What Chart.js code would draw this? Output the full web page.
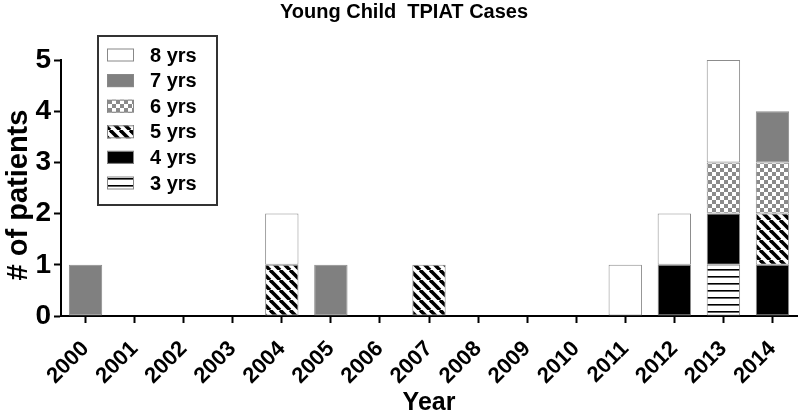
<!DOCTYPE html>
<html>
<head>
<meta charset="utf-8">
<script src="https://cdn.jsdelivr.net/npm/chart.js@4.4.0/dist/chart.umd.min.js"></script>
<style>
  html, body { margin: 0; padding: 0; background: #fff; }
  #wrap { width: 800px; height: 415px; }
</style>
</head>
<body>
<div id="wrap"><canvas id="tpiatChart"></canvas></div>
<script>
// Data
const years = ['2000','2001','2002','2003','2004','2005','2006','2007','2008','2009','2010','2011','2012','2013','2014'];
const yrs3 = [0,0,0,0,0,0,0,0,0,0,0,0,0,1,0];
const yrs4 = [0,0,0,0,0,0,0,0,0,0,0,0,1,1,1];
const yrs5 = [0,0,0,0,1,0,0,1,0,0,0,0,0,0,1];
const yrs6 = [0,0,0,0,0,0,0,0,0,0,0,0,0,1,1];
const yrs7 = [1,0,0,0,0,1,0,0,0,0,0,0,0,0,1];
const yrs8 = [0,0,0,0,1,0,0,0,0,0,0,1,1,2,0];
const yTicks = [0,1,2,3,4,5];

const FONT = 'Arial, "Liberation Sans", Helvetica, sans-serif';

// Fill patterns
function makePattern(w, h, draw) {
    const c = document.createElement('canvas');
    c.width = w; c.height = h;
    const g = c.getContext('2d');
    g.fillStyle = '#fff';
    g.fillRect(0, 0, w, h);
    draw(g);
    return document.getElementById('tpiatChart').getContext('2d').createPattern(c, 'repeat');
}

const hLines = makePattern(7, 7, g => {
    g.fillStyle = '#000';
    g.fillRect(0, 3, 7, 1.6);
});

const diagonal = makePattern(10, 10, g => {
    g.strokeStyle = '#000';
    g.lineWidth = 3.6;
    [-10, 0, 10].forEach(a => {
        g.beginPath();
        g.moveTo(a, 0);
        g.lineTo(a + 10, 10);
        g.stroke();
    });
});

const checker = makePattern(8, 8, g => {
    g.fillStyle = '#8a8a8a';
    g.fillRect(0, 0, 4, 4);
    g.fillRect(4, 4, 4, 4);
});

const seriesInfo = [
    { label: '3 yrs', data: yrs3, fill: hLines },
    { label: '4 yrs', data: yrs4, fill: '#000000' },
    { label: '5 yrs', data: yrs5, fill: diagonal },
    { label: '6 yrs', data: yrs6, fill: checker },
    { label: '7 yrs', data: yrs7, fill: '#808080' },
    { label: '8 yrs', data: yrs8, fill: '#ffffff' }
];

// Title, y title and legend box drawn on the canvas
const decorPlugin = {
    id: 'decor',
    afterDraw(chart) {
        const ctx = chart.ctx;
        ctx.save();
        ctx.fillStyle = '#000';
        ctx.font = 'bold 20px ' + FONT;
        ctx.textAlign = 'center';
        ctx.textBaseline = 'middle';
        ctx.fillText('Young Child  TPIAT Cases', 404, 12);

        // y axis title
        ctx.save();
        ctx.translate(19, 195);
        ctx.rotate(-Math.PI / 2);
        ctx.font = 'bold 29px ' + FONT;
        ctx.fillText('# of patients', 0, 0);
        ctx.restore();

        // legend
        ctx.strokeStyle = '#333';
        ctx.lineWidth = 2;
        ctx.strokeRect(98, 36, 119, 169);
        const sets = chart.data.datasets.slice().reverse();
        ctx.font = 'bold 20px ' + FONT;
        ctx.textAlign = 'left';
        sets.forEach((ds, i) => {
            const cy = 55 + i * 25.6;
            ctx.fillStyle = ds.backgroundColor;
            ctx.fillRect(107, cy - 6.5, 27, 13);
            ctx.strokeStyle = '#888';
            ctx.lineWidth = 1;
            ctx.strokeRect(107.5, cy - 6, 26, 12);
            ctx.fillStyle = '#000';
            ctx.fillText(ds.label, 150, cy + 1);
        });
        ctx.restore();
    }
};

const ctx = document.getElementById('tpiatChart').getContext('2d');
new Chart(ctx, {
    type: 'bar',
    data: {
        labels: years,
        datasets: seriesInfo.map(s => ({
            label: s.label,
            data: s.data.map(v => v === 0 ? null : v),
            backgroundColor: s.fill,
            borderColor: '#8c8c8c',
            borderWidth: 1,
            borderSkipped: false,
            barPercentage: 0.68,
            categoryPercentage: 1
        }))
    },
    options: {
        responsive: true,
        maintainAspectRatio: false,
        animation: false,
        layout: { padding: { top: 60, right: 3, left: 0, bottom: 0 } },
        plugins: {
            legend: { display: false },
            title: { display: false },
            tooltip: { enabled: false }
        },
        scales: {
            x: {
                stacked: true,
                afterFit: scale => {
                    scale.height = 99;
                    scale.paddingLeft = 0;
                    scale.paddingRight = 0;
                },
                border: { color: '#000', width: 2 },
                grid: {
                    offset: false,
                    drawOnChartArea: false,
                    color: '#000',
                    tickLength: 7,
                    tickWidth: 2
                },
                ticks: {
                    color: '#000',
                    font: { family: FONT, size: 22, weight: 'bold' },
                    minRotation: 45,
                    maxRotation: 45,
                    padding: 13
                },
                title: {
                    display: true,
                    text: 'Year',
                    color: '#000',
                    font: { family: FONT, size: 25, weight: 'bold' },
                    padding: { top: 0, bottom: -3 }
                }
            },
            y: {
                stacked: true,
                min: 0,
                max: 5,
                afterFit: scale => { scale.width = 61; },
                afterBuildTicks: scale => { scale.ticks = yTicks.map(v => ({ value: v })); },
                border: { color: '#000', width: 2 },
                grid: {
                    drawOnChartArea: false,
                    color: '#000',
                    tickLength: 7,
                    tickWidth: 2
                },
                ticks: {
                    color: '#000',
                    font: { family: FONT, size: 28, weight: 'bold' },
                    padding: 3
                }
            }
        }
    },
    plugins: [decorPlugin]
});
</script>
</body>
</html>
